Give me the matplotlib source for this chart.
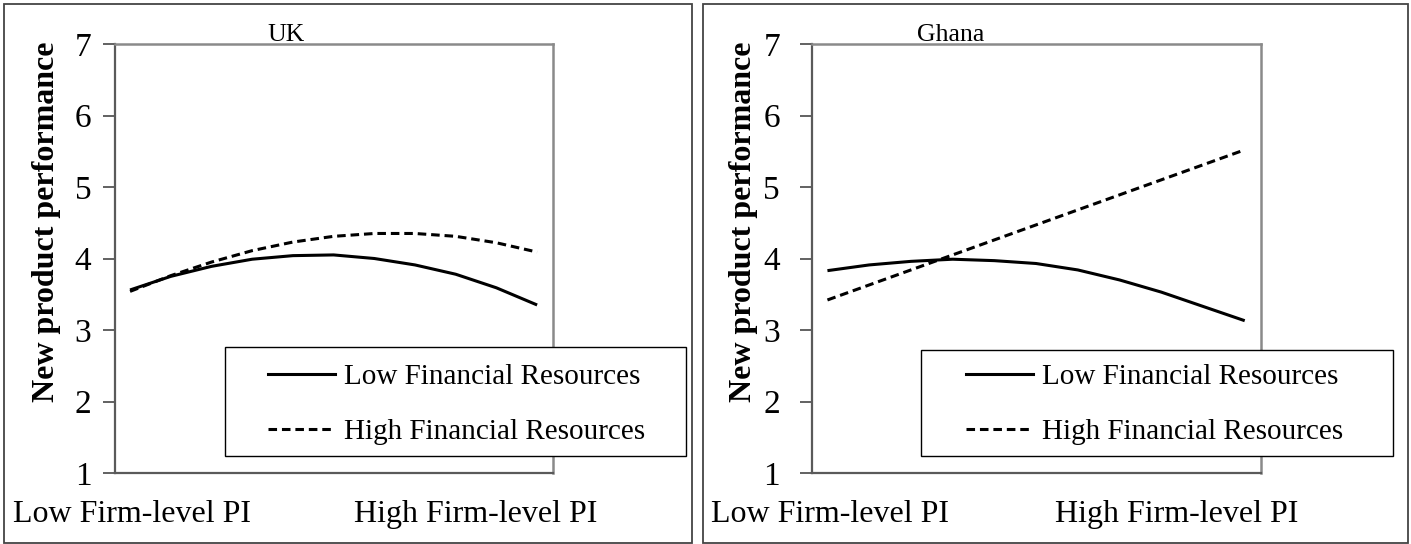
import matplotlib
matplotlib.use("Agg")
import matplotlib.pyplot as plt
from matplotlib.patches import Rectangle
from matplotlib.lines import Line2D
import matplotlib.transforms as mtransforms

plt.rcParams['font.family'] = ['Liberation Serif', 'DejaVu Serif']

# ---- data ----
pi_level = [0.0, 0.1, 0.2, 0.3, 0.4, 0.5, 0.6, 0.7, 0.8, 0.9, 1.0]
uk_low_fin = [3.56, 3.75, 3.89, 3.99, 4.04, 4.05, 4.00, 3.91, 3.78, 3.59, 3.35]
uk_high_fin = [3.54, 3.76, 3.95, 4.11, 4.23, 4.31, 4.35, 4.35, 4.31, 4.22, 4.09]
gh_low_fin = [3.83, 3.91, 3.96, 3.99, 3.97, 3.93, 3.84, 3.70, 3.53, 3.33, 3.13]
gh_high_fin = [3.42, 3.63, 3.84, 4.05, 4.26, 4.47, 4.68, 4.89, 5.10, 5.31, 5.52]
panel_titles = ["UK", "Ghana"]
series_labels = ["Low Financial Resources", "High Financial Resources"]
x_tick_labels = ["Low Firm-level PI", "High Firm-level PI"]
y_ticks = [1, 2, 3, 4, 5, 6, 7]
y_label = "New product performance"

W, H = 1411, 544
fig = plt.figure(figsize=(W / 100, H / 100), dpi=100)

DASH = (0, (2.8, 1.6))

def fx(px):
    return px / W

def fy(py):
    return 1 - py / H

panels = [
    dict(ax=(115, 44, 553, 473), border=(4, 4, 692, 543), title_x=286,
         ylab_x=47, tick_pad=8, xl=(0.005, 0.85),
         legbox=(225, 347, 686, 456), leg_x=268,
         data=(uk_low_fin, uk_high_fin)),
    dict(ax=(812, 44, 1261, 473), border=(703, 4, 1408, 543), title_x=951,
         ylab_x=744, tick_pad=14, xl=(0.005, 0.837),
         legbox=(921, 350, 1393, 456), leg_x=966,
         data=(gh_low_fin, gh_high_fin)),
]

for i, p in enumerate(panels):
    # panel border
    bx0, by0, bx1, by1 = p['border']
    fig.patches.append(Rectangle((fx(bx0), fy(by1)), fx(bx1 - bx0), (by1 - by0) / H,
                                 transform=fig.transFigure, fill=False,
                                 edgecolor='#444444', lw=1.3, zorder=0))
    x0, y0, x1, y1 = p['ax']
    ax = fig.add_axes([fx(x0), fy(y1), fx(x1 - x0), (y1 - y0) / H])
    low, high = p['data']
    ax.plot(pi_level, low, color='black', lw=2.2, solid_capstyle='butt')
    ax.plot(pi_level, high, color='black', lw=2.2, linestyle=DASH)
    ax.set_xlim(-0.037, 1.039)
    ax.set_ylim(1, 7)
    ax.set_yticks(y_ticks)
    ax.set_yticklabels([str(v) for v in y_ticks])
    ax.set_xticks([])
    ax.tick_params(axis='y', direction='out', length=9, width=1.3,
                   color='#555555', labelsize=24, pad=p['tick_pad'])
    for s in ['left', 'bottom']:
        ax.spines[s].set_color('#5a5a5a')
        ax.spines[s].set_linewidth(1.6)
    for s in ['top', 'right']:
        ax.spines[s].set_color('#8a8a8a')
        ax.spines[s].set_linewidth(1.8)

    # title
    fig.text(fx(p['title_x']), fy(41), panel_titles[i], ha='center',
             va='baseline', fontsize=18.5)
    # y label
    fig.text(fx(p['ylab_x']), fy(222), y_label, rotation=90, ha='center',
             va='center', fontsize=23, fontweight='bold')
    # x category labels
    trans = mtransforms.blended_transform_factory(ax.transData, fig.transFigure)
    for xv, lab in zip(p['xl'], x_tick_labels):
        ax.text(xv, fy(522), lab, transform=trans, ha='center', va='baseline',
                fontsize=23, clip_on=False)

    # legend box
    lx0, ly0, lx1, ly1 = p['legbox']
    fig.patches.append(Rectangle((fx(lx0), fy(ly1)), fx(lx1 - lx0), (ly1 - ly0) / H,
                                 transform=fig.transFigure, facecolor='white',
                                 edgecolor='black', lw=1.0, zorder=5))
    handles = [Line2D([], [], color='black', lw=2.2),
               Line2D([], [], color='black', lw=2.2, linestyle=DASH)]
    leg = fig.legend(handles, series_labels, loc='center left',
                     bbox_to_anchor=(fx(p['leg_x']), fy(404.5)),
                     bbox_transform=fig.transFigure, frameon=False,
                     fontsize=21, handlelength=2.3, handletextpad=0.3,
                     borderpad=0, borderaxespad=0, labelspacing=0.98)
    leg.set_zorder(6)

fig.savefig("out.png", dpi=100)
